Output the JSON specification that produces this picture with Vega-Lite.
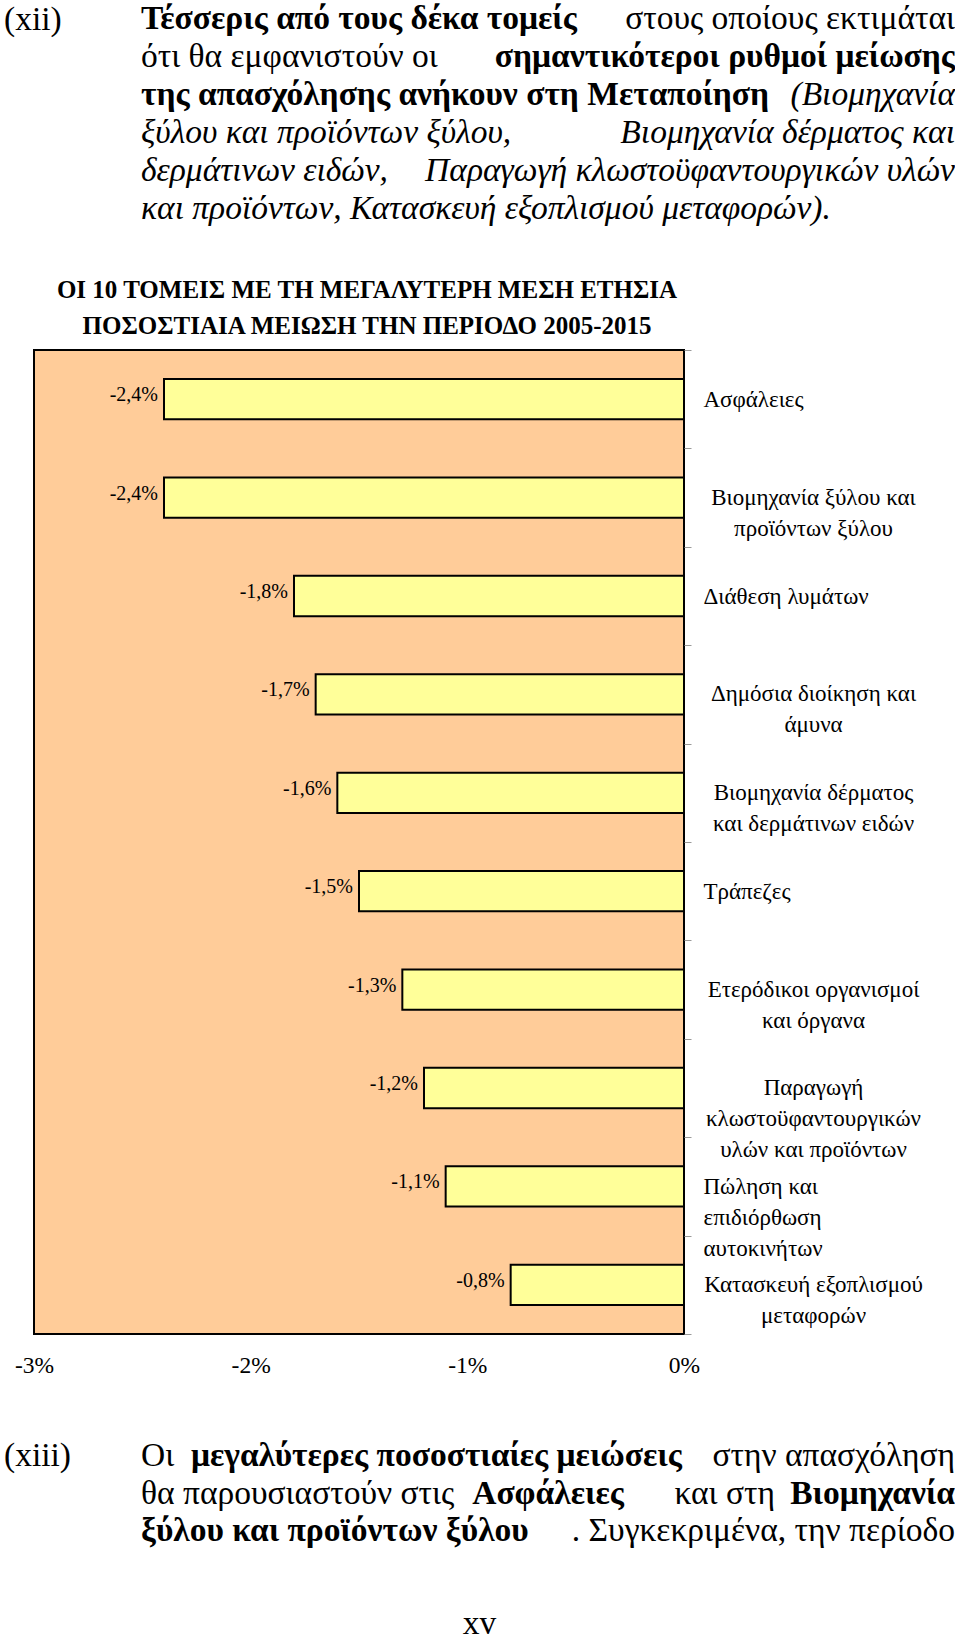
{
  "$schema": "https://vega.github.io/schema/vega-lite/v6.json",
  "padding": {"left": 4, "top": 0, "right": 0, "bottom": 0},
  "config": {
    "font": "Liberation Serif",
    "view": {"stroke": null},
    "locale": {"number": {"decimal": ",", "thousands": ".", "grouping": [3], "currency": ["", " €"], "minus": "-"}},
    "title": {"color": "#000000", "font": "Liberation Serif"}
  },
  "title": {"text": "xv", "orient": "bottom", "anchor": "middle", "frame": "bounds", "fontSize": 33.5, "fontWeight": "normal", "baseline": "alphabetic", "offset": 86},
  "bounds": "flush",
  "spacing": 122,
  "datasets": {
    "sectors": [
      {"sector": "Ασφάλειες", "change": -0.024},
      {"sector": "Βιομηχανία ξύλου και προϊόντων ξύλου", "change": -0.024},
      {"sector": "Διάθεση λυμάτων", "change": -0.018},
      {"sector": "Δημόσια διοίκηση και άμυνα", "change": -0.017},
      {"sector": "Βιομηχανία δέρματος και δερμάτινων ειδών", "change": -0.016},
      {"sector": "Τράπεζες", "change": -0.015},
      {"sector": "Ετερόδικοι οργανισμοί και όργανα", "change": -0.013},
      {"sector": "Παραγωγή κλωστοϋφαντουργικών υλών και προϊόντων", "change": -0.012},
      {"sector": "Πώληση και επιδιόρθωση αυτοκινήτων", "change": -0.011},
      {"sector": "Κατασκευή εξοπλισμού μεταφορών", "change": -0.008}
    ],
    "xii_plain": [
      {"line": 1, "side": "end", "text": "στους οποίους εκτιμάται"},
      {"line": 2, "side": "start", "text": "ότι θα εμφανιστούν οι"}
    ],
    "xii_bold": [
      {"line": 1, "side": "start", "text": "Τέσσερις από τους δέκα τομείς"},
      {"line": 2, "side": "end", "text": "σημαντικότεροι ρυθμοί μείωσης"},
      {"line": 3, "side": "start", "text": "της απασχόλησης ανήκουν στη Μεταποίηση"}
    ],
    "xii_italic": [
      {"line": 3, "side": "end", "text": "(Βιομηχανία"},
      {"line": 4, "side": "start", "text": "ξύλου και προϊόντων ξύλου,"},
      {"line": 4, "side": "end", "text": "Βιομηχανία δέρματος και"},
      {"line": 5, "side": "start", "text": "δερμάτινων ειδών,"},
      {"line": 5, "side": "end", "text": "Παραγωγή κλωστοϋφαντουργικών υλών"},
      {"line": 6, "side": "start", "text": "και προϊόντων, Κατασκευή εξοπλισμού μεταφορών)."}
    ],
    "xiii_plain": [
      {"line": 1, "side": "start", "text": "Οι"},
      {"line": 1, "side": "end", "text": "στην απασχόληση"},
      {"line": 2, "side": "start", "text": "θα παρουσιαστούν στις"},
      {"line": 3, "side": "end", "text": ". Συγκεκριμένα, την περίοδο"}
    ],
    "xiii_plain_inner": [
      {"line": 2, "side": "end", "text": "και στη"}
    ],
    "xiii_bold": [
      {"line": 2, "side": "mid", "text": "Ασφάλειες"},
      {"line": 2, "side": "end", "text": "Βιομηχανία"},
      {"line": 3, "side": "start", "text": "ξύλου και προϊόντων ξύλου"}
    ],
    "xiii_bold_inner": [
      {"line": 1, "side": "start", "text": "μεγαλύτερες ποσοστιαίες μειώσεις"}
    ]
  },
  "vconcat": [
    {
      "width": 921,
      "height": 228,
      "title": {"text": "(xii)", "orient": "left", "anchor": "end", "frame": "group", "angle": 0, "align": "left", "baseline": "middle", "offset": -27.7, "dy": 20, "fontSize": 33.5, "fontWeight": "normal"},
      "encoding": {
        "x": {"field": "side", "type": "nominal", "scale": {"type": "point", "domain": ["start", "end"], "padding": 0.0657, "align": 1}, "axis": null},
        "y": {"field": "line", "type": "ordinal", "scale": {"type": "point", "domain": [1, 2, 3, 4, 5, 6], "padding": 0.5}, "axis": null},
        "text": {"field": "text"}
      },
      "layer": [
        {"data": {"name": "xii_plain"}, "mark": {"type": "text", "fontSize": 33.5, "baseline": "middle", "color": "#000000", "align": {"expr": "datum.side === 'end' ? 'right' : 'left'"}}},
        {"data": {"name": "xii_bold"}, "mark": {"type": "text", "fontSize": 33.5, "fontWeight": "bold", "baseline": "middle", "color": "#000000", "align": {"expr": "datum.side === 'end' ? 'right' : 'left'"}}},
        {"data": {"name": "xii_italic"}, "mark": {"type": "text", "fontSize": 33.5, "fontStyle": "italic", "baseline": "middle", "color": "#000000", "align": {"expr": "datum.side === 'end' ? 'right' : 'left'"}}}
      ]
    },
    {
      "width": 650,
      "height": 984,
      "view": {"fill": "#FFCC99", "stroke": "#000000", "strokeWidth": 2},
      "title": {"text": ["ΟΙ 10 ΤΟΜΕΙΣ ΜΕ ΤΗ ΜΕΓΑΛΥΤΕΡΗ ΜΕΣΗ ΕΤΗΣΙΑ", "ΠΟΣΟΣΤΙΑΙΑ ΜΕΙΩΣΗ ΤΗΝ ΠΕΡΙΟΔΟ 2005-2015"], "anchor": "middle", "frame": "group", "fontSize": 25, "fontWeight": "bold", "lineHeight": 36, "baseline": "bottom", "offset": -25, "dx": 8},
      "data": {"name": "sectors"},
      "layer": [
        {
          "mark": {"type": "bar", "fill": "#FFFF99", "stroke": "#000000", "strokeWidth": 2, "height": {"band": 0.41}},
          "encoding": {
            "y": {"field": "sector", "type": "nominal", "sort": null,
              "scale": {"paddingInner": 0, "paddingOuter": 0},
              "axis": {"orient": "right", "title": null, "domain": false, "grid": false, "ticks": true, "tickBand": "extent", "tickColor": "#9A9A9A", "tickSize": 7, "labelPadding": 12, "labelAlign": "left", "labelBaseline": "middle", "labelFontSize": 23, "labelLineHeight": 31, "labelColor": "#000000", "labelLimit": 400, "labelOverlap": false,
                "labelExpr": "datum.value === 'Πώληση και επιδιόρθωση αυτοκινήτων' ? ['Πώληση και', 'επιδιόρθωση', 'αυτοκινήτων'] : (datum.value === 'Ασφάλειες' || datum.value === 'Διάθεση λυμάτων' || datum.value === 'Τράπεζες') ? datum.value : ''"}},
            "x": {"field": "change", "type": "quantitative",
              "scale": {"domain": [-0.03, 0], "nice": false},
              "axis": {"orient": "bottom", "values": [-0.03, -0.02, -0.01, 0], "format": ".0%", "title": null, "domain": false, "ticks": false, "grid": false, "labelFontSize": 23.5, "labelPadding": 19, "labelColor": "#000000", "labelFlush": false, "labelBaseline": "top"}}
          }
        },
        {
          "mark": {"type": "text", "align": "right", "baseline": "middle", "dx": -6, "dy": -4, "fontSize": 20, "color": "#000000"},
          "encoding": {
            "y": {"field": "sector", "type": "nominal", "sort": null,
              "axis": {"orient": "right", "title": null, "domain": false, "grid": false, "ticks": false, "tickSize": 0, "labelPadding": 129, "labelAlign": "center", "labelBaseline": "middle", "labelFontSize": 23, "labelLineHeight": 31, "labelColor": "#000000", "labelLimit": 400, "labelOverlap": false,
                "labelExpr": "datum.value === 'Βιομηχανία ξύλου και προϊόντων ξύλου' ? ['Βιομηχανία ξύλου και', 'προϊόντων ξύλου'] : datum.value === 'Δημόσια διοίκηση και άμυνα' ? ['Δημόσια διοίκηση και', 'άμυνα'] : datum.value === 'Βιομηχανία δέρματος και δερμάτινων ειδών' ? ['Βιομηχανία δέρματος', 'και δερμάτινων ειδών'] : datum.value === 'Ετερόδικοι οργανισμοί και όργανα' ? ['Ετερόδικοι οργανισμοί', 'και όργανα'] : datum.value === 'Παραγωγή κλωστοϋφαντουργικών υλών και προϊόντων' ? ['Παραγωγή', 'κλωστοϋφαντουργικών', 'υλών και προϊόντων'] : datum.value === 'Κατασκευή εξοπλισμού μεταφορών' ? ['Κατασκευή εξοπλισμού', 'μεταφορών'] : ''"}},
            "x": {"field": "change", "type": "quantitative"},
            "text": {"field": "change", "type": "quantitative", "format": ".1%"}
          }
        }
      ],
      "resolve": {"axis": {"y": "independent"}}
    },
    {
      "width": 921,
      "height": 75,
      "title": {"text": "(xiii)", "orient": "left", "anchor": "end", "frame": "group", "angle": 0, "align": "left", "baseline": "middle", "offset": -37, "dy": 0, "fontSize": 33.5, "fontWeight": "normal"},
      "encoding": {
        "x": {"field": "side", "type": "nominal", "scale": {"type": "point", "domain": ["start", "mid", "end"], "padding": 0.1315, "align": 1}, "axis": null},
        "y": {"field": "line", "type": "ordinal", "scale": {"type": "point", "domain": [1, 2, 3], "padding": 0}, "axis": null},
        "text": {"field": "text"}
      },
      "layer": [
        {"data": {"name": "xiii_plain"}, "mark": {"type": "text", "fontSize": 33.5, "baseline": "middle", "color": "#000000", "align": {"expr": "datum.side === 'end' ? 'right' : datum.side === 'mid' ? 'center' : 'left'"}}},
        {"data": {"name": "xiii_plain_inner"}, "mark": {"type": "text", "fontSize": 33.5, "baseline": "middle", "color": "#000000", "align": "right", "dx": -180}},
        {"data": {"name": "xiii_bold"}, "mark": {"type": "text", "fontSize": 33.5, "fontWeight": "bold", "baseline": "middle", "color": "#000000", "align": {"expr": "datum.side === 'end' ? 'right' : datum.side === 'mid' ? 'center' : 'left'"}}},
        {"data": {"name": "xiii_bold_inner"}, "mark": {"type": "text", "fontSize": 33.5, "fontWeight": "bold", "baseline": "middle", "color": "#000000", "align": "left", "dx": 50}}
      ]
    }
  ]
}
